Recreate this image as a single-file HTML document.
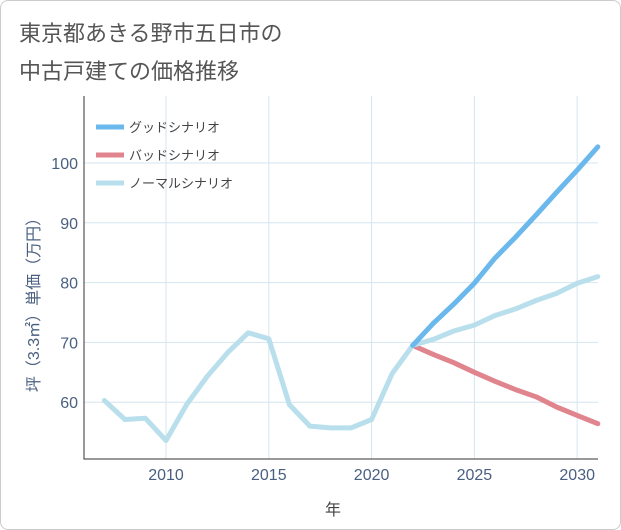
<!DOCTYPE html>
<html><head><meta charset="utf-8">
<style>
body{margin:0;background:#fff;}
#wrap{position:relative;width:619px;height:528px;border:1px solid #ccc;border-radius:8px;background:#fff;overflow:hidden;font-family:"Liberation Sans","Noto Sans CJK JP",sans-serif;}
svg text{font-family:"Liberation Sans","Noto Sans CJK JP",sans-serif;}
</style></head>
<body>
<div id="wrap">
<svg id="chart" width="621" height="530">
<text x="18" y="40" font-size="22" fill="#555">東京都あきる野市五日市の</text>
<text x="18" y="78" font-size="22" fill="#555">中古戸建ての価格推移</text>
<g id="grid"></g>
<g id="axes"></g>
<g id="series"></g>
<g id="legend"></g>
<text x="332" y="514" font-size="16" fill="#444" text-anchor="middle">年</text>
<text transform="translate(38,300) rotate(-90)" font-size="16" fill="#4a6080" text-anchor="middle">坪（3.3㎡）単価（万円）</text>
</svg>
</div>
<script>
const years=[2007,2008,2009,2010,2011,2012,2013,2014,2015,2016,2017,2018,2019,2020,2021,2022,2023,2024,2025,2026,2027,2028,2029,2030,2031];
const normalVals=[60.3,57.1,57.3,53.6,59.6,64.3,68.3,71.6,70.6,59.6,56.0,55.7,55.7,57.1,64.8,69.5,70.5,71.9,72.9,74.5,75.6,77.0,78.2,79.9,81.0];
const futureYears=[2022,2023,2024,2025,2026,2027,2028,2029,2030,2031];
const goodVals=[69.5,73.2,76.4,79.9,84.1,87.6,91.3,95.1,98.8,102.7];
const badVals=[69.5,68.0,66.6,65.0,63.5,62.1,60.9,59.2,57.8,56.4];
const xTicks=[2010,2015,2020,2025,2030];
const yTicks=[60,70,80,90,100];
const legendLabels=["グッドシナリオ","バッドシナリオ","ノーマルシナリオ"];

const NS="http://www.w3.org/2000/svg";
const L=83,R=597,T=95,B=458;
const x=v=>165+(v-2010)*20.56;
const y=v=>162+(100-v)*5.98;
function mk(tag,attrs,parent){const e=document.createElementNS(NS,tag);for(const k in attrs)e.setAttribute(k,attrs[k]);parent.appendChild(e);return e;}
const grid=document.getElementById('grid'),axes=document.getElementById('axes'),ser=document.getElementById('series'),leg=document.getElementById('legend');
xTicks.forEach(t=>{
 const l=mk('line',{x1:x(t),x2:x(t),y1:T,y2:B,stroke:'#d5e5ef','stroke-width':1},grid);
 
 
 const tx=mk('text',{x:x(t),y:B+21,'font-size':16,fill:'#4a6080','text-anchor':'middle'},axes);
 tx.textContent=t;
 
 
});
yTicks.forEach(t=>{
 const l=mk('line',{x1:L,x2:R,y1:y(t),y2:y(t),stroke:'#d5e5ef','stroke-width':1},grid);
 
 
 const tx=mk('text',{x:L-6,y:y(t)+6,'font-size':16,fill:'#4a6080','text-anchor':'end'},axes);
 tx.textContent=t;
 
 
});
const ax=mk('path',{d:`M${L},${T}V${B}H${R}`,stroke:'#333',fill:'none','stroke-width':1},axes);


function line(xs,vs,color,name){
 const d=xs.map((v,i)=>(i?'L':'M')+x(v).toFixed(1)+','+y(vs[i]).toFixed(1)).join('');
 const p=mk('path',{d:d,stroke:color,'stroke-width':5,fill:'none','stroke-linejoin':'round','stroke-linecap':'round'},ser);
 
 
}
line(futureYears,badVals,'#e0848e','bad-scenario-line');
line(years,normalVals,'#b9dfec','normal-scenario-line');
line(futureYears,goodVals,'#6bb8ec','good-scenario-line');
const cols=['#6bb8ec','#e0848e','#b9dfec'];
legendLabels.forEach((lab,i)=>{
 const yy=126+i*28;
 const s=mk('line',{x1:95,x2:123,y1:yy,y2:yy,stroke:cols[i],'stroke-width':5},leg);
 
 
 const t=mk('text',{x:128,y:yy+5,'font-size':13,fill:'#444'},leg);
 t.textContent=lab;
 
 
});
</script>
</body></html>
